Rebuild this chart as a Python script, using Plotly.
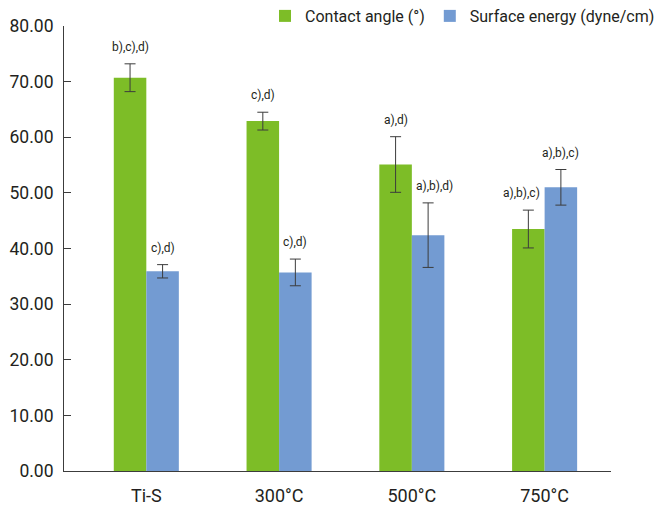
import plotly.graph_objects as go

categories = ["Ti-S", "300°C", "500°C", "750°C"]
contact_angle = [70.7, 62.9, 55.1, 43.5]
contact_angle_err = [2.5, 1.6, 5.0, 3.4]
surface_energy = [35.9, 35.7, 42.4, 51.0]
surface_energy_err = [1.2, 2.4, 5.8, 3.2]
contact_labels = ["b),c),d)", "c),d)", "a),d)", "a),b),c)"]
surface_labels = ["c),d)", "c),d)", "a),b),d)", "a),b),c)"]
y_ticks = [0, 10, 20, 30, 40, 50, 60, 70, 80]

GREEN = "#7dbd27"
BLUE = "#739bd2"
TEXT = "#231f20"
LINE = "#3c3c3c"
FONT = "Roboto, 'Liberation Sans', sans-serif"

# small horizontal nudges (px) of the letter labels, as in the original layout
contact_label_nudge = [0, 0, 0, -7]
surface_label_nudge = [0, 0, 6, 0]

bargap = 0.51
bar_w = (1 - bargap) / 2

fig = go.Figure()
fig.add_trace(go.Bar(
    x=categories, y=contact_angle, name="Contact angle (°)",
    marker=dict(color=GREEN, line=dict(width=0)),
    error_y=dict(type="data", array=contact_angle_err, color=LINE, thickness=1, width=5.5),
))
fig.add_trace(go.Bar(
    x=categories, y=surface_energy, name="Surface energy (dyne/cm)",
    marker=dict(color=BLUE, line=dict(width=0)),
    error_y=dict(type="data", array=surface_energy_err, color=LINE, thickness=1, width=5.5),
))

annotations = []
for i in range(len(categories)):
    annotations.append(dict(
        x=i - bar_w / 2, y=contact_angle[i] + contact_angle_err[i], xref="x", yref="y",
        text=contact_labels[i], showarrow=False, yanchor="bottom", yshift=8,
        xshift=contact_label_nudge[i],
        font=dict(family=FONT, size=12, color=TEXT),
    ))
    annotations.append(dict(
        x=i + bar_w / 2, y=surface_energy[i] + surface_energy_err[i], xref="x", yref="y",
        text=surface_labels[i], showarrow=False, yanchor="bottom", yshift=8,
        xshift=surface_label_nudge[i],
        font=dict(family=FONT, size=12, color=TEXT),
    ))

fig.update_layout(
    width=660, height=502,
    margin=dict(l=56, r=57, t=18, b=39, autoexpand=False),
    paper_bgcolor="white", plot_bgcolor="white",
    barmode="group", bargap=bargap, bargroupgap=0,
    font=dict(family=FONT, color=TEXT, size=16),
    showlegend=True,
    legend=dict(
        orientation="h", x=1.0896, xanchor="right", y=1.0225, yanchor="middle",
        font=dict(family=FONT, size=16, color=TEXT), bgcolor="rgba(0,0,0,0)",
        itemclick=False, traceorder="normal",
    ),
    xaxis=dict(
        type="category", range=[-0.62, 3.5], showline=True, linecolor=LINE, linewidth=1,
        ticks="", showgrid=False, zeroline=False,
        tickfont=dict(family=FONT, size=18, color=TEXT), ticklabelstandoff=8,
    ),
    xaxis2=dict(
        overlaying="x", anchor="y", type="linear", range=[-0.62, 3.5], side="bottom",
        tickvals=[0.5, 1.5, 2.5, 3.5], ticks="inside", ticklen=6, tickcolor=LINE, tickwidth=1,
        showticklabels=False, showgrid=False, zeroline=False, showline=False,
    ),
    yaxis=dict(
        range=[0, 80], tickvals=y_ticks, ticktext=[f"{v:.2f}" for v in y_ticks],
        showline=True, linecolor=LINE, linewidth=1, ticks="inside", ticklen=7,
        tickcolor=LINE, tickwidth=1, showgrid=False, zeroline=False,
        tickfont=dict(family=FONT, size=17.5, color=TEXT), ticklabelstandoff=6,
    ),
    annotations=annotations,
)

fig.write_html("out.html")
